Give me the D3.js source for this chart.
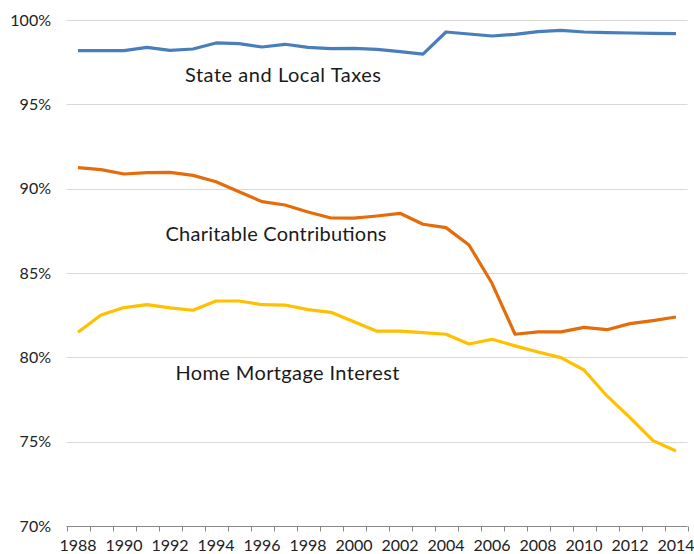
<!DOCTYPE html>
<html><head><meta charset="utf-8">
<script src="https://cdn.jsdelivr.net/npm/d3@7/dist/d3.min.js"></script>
<style>
html,body{margin:0;padding:0;background:#fff;}
svg{display:block;font-family:Lato,"Open Sans",sans-serif;}
</style></head>
<body>
<svg id="chart" width="694" height="554"></svg>
<script>
const years = d3.range(1988, 2015);
const stateLocalTaxes = [98.18,98.18,98.18,98.38,98.2,98.28,98.64,98.6,98.4,98.56,98.38,98.3,98.32,98.26,98.12,97.98,99.29,99.17,99.05,99.15,99.31,99.39,99.29,99.25,99.23,99.21,99.19];
const charitableContributions = [91.25,91.13,90.87,90.95,90.97,90.79,90.41,89.82,89.23,89.03,88.62,88.26,88.25,88.38,88.54,87.89,87.69,86.66,84.39,81.37,81.51,81.51,81.78,81.64,82.0,82.18,82.39];
const homeMortgageInterest = [81.49,82.51,82.95,83.12,82.93,82.79,83.34,83.34,83.12,83.1,82.83,82.67,82.11,81.55,81.55,81.46,81.37,80.79,81.07,80.68,80.32,79.98,79.25,77.71,76.43,75.06,74.45];
const yTicks = [70,75,80,85,90,95,100];
const xLabelYears = years.filter(y => (y - 1988) % 2 === 0);
const seriesNames = ["State and Local Taxes","Charitable Contributions","Home Mortgage Interest"];

const series = [
  {name: seriesNames[0], values: stateLocalTaxes, color: "#4A7EBB", lx: 185, ly: 81.5, w: 196},
  {name: seriesNames[1], values: charitableContributions, color: "#E46C0A", lx: 165.5, ly: 241, w: 221},
  {name: seriesNames[2], values: homeMortgageInterest, color: "#FFC000", lx: 175.5, ly: 380, w: 224}
];

const svg = d3.select("#chart");
const x = d3.scaleBand().domain(years).range([66.5, 687.5]).padding(0);
const y = d3.scaleLinear().domain([70,100]).range([526,20]);
const cx = d => x(d) + x.bandwidth()/2;

// gridlines
svg.append("g").selectAll("line").data(yTicks.filter(t => t > 70)).join("line")
  .attr("x1", 66.5).attr("x2", 687.5)
  .attr("y1", d => Math.round(y(d)) + 0.5).attr("y2", d => Math.round(y(d)) + 0.5)
  .attr("stroke", "#d9d9d9").attr("stroke-width", 1);

// y labels
svg.append("g").selectAll("text").data(yTicks).join("text")
  .attr("x", 51).attr("y", d => y(d)).attr("dy", "0.36em")
  .attr("text-anchor", "end").attr("font-size", 16).attr("fill", "#222")
  .text(d => d + "%");

// x axis line and ticks at band boundaries
const axisY = Math.round(y(70)) + 0.5;
svg.append("line").attr("x1", 66.5).attr("x2", 687.5).attr("y1", axisY).attr("y2", axisY)
  .attr("stroke", "#888").attr("stroke-width", 1);
const bounds = years.map(d => x(d)).concat([x.range()[1]]);
svg.append("g").selectAll("line").data(bounds).join("line")
  .attr("x1", d => Math.round(d) + 0.5).attr("x2", d => Math.round(d) + 0.5)
  .attr("y1", axisY).attr("y2", axisY + 5)
  .attr("stroke", "#888").attr("stroke-width", 1);

// x labels
svg.append("g").selectAll("text").data(xLabelYears).join("text")
  .attr("x", d => cx(d)).attr("y", 550.5)
  .attr("text-anchor", "middle").attr("font-size", 16).attr("fill", "#222")
  .text(d => d);

// lines
const line = d3.line().x((d,i) => cx(years[i])).y(d => y(d));
svg.append("g").selectAll("path").data(series).join("path")
  .attr("d", d => line(d.values))
  .attr("fill", "none").attr("stroke", d => d.color).attr("stroke-width", 3.2)
  .attr("stroke-linejoin", "round");

// series labels
svg.append("g").selectAll("text").data(series).join("text")
  .attr("x", d => d.lx).attr("y", d => d.ly)
  .attr("font-size", 20).attr("fill", "#1a1a1a")
  .attr("textLength", d => d.w).attr("lengthAdjust", "spacing")
  .text(d => d.name);
</script>
</body></html>
